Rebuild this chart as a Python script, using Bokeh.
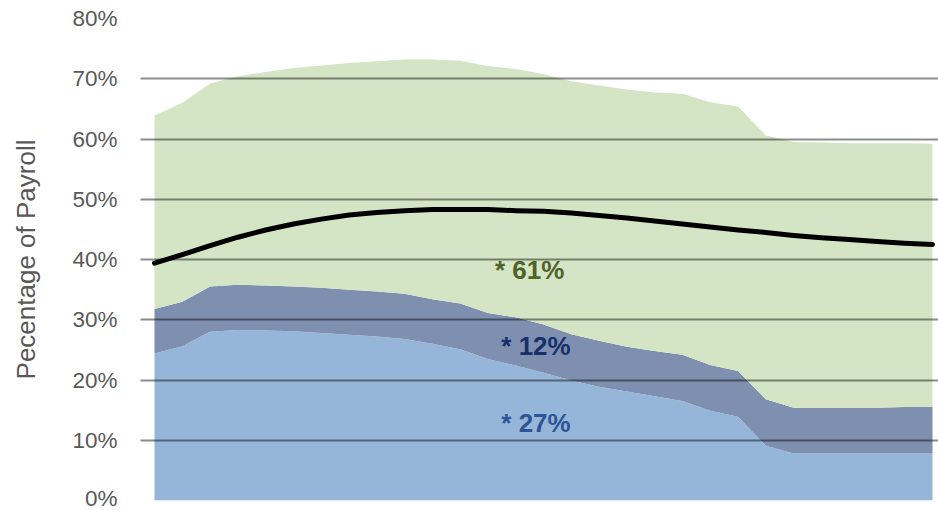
from bokeh.plotting import figure
from bokeh.models import ColumnDataSource, Range1d, FixedTicker
from bokeh.embed import file_html
from bokeh.resources import INLINE

# Projected cost as a percentage of payroll, one value per projection year
member_share = [24.4, 25.6, 28.0, 28.3, 28.2, 28.1, 27.8, 27.5, 27.2, 26.8,
                26.0, 25.1, 23.5, 22.4, 21.2, 19.9, 18.9, 18.1, 17.3, 16.5,
                14.9, 13.9, 9.1, 7.8, 7.8, 7.8, 7.8, 7.8, 7.8]
employer_share = [7.4, 7.4, 7.5, 7.5, 7.5, 7.4, 7.5, 7.5, 7.5, 7.5,
                  7.4, 7.6, 7.6, 8.0, 8.0, 7.7, 7.6, 7.4, 7.5, 7.7,
                  7.6, 7.6, 7.7, 7.6, 7.6, 7.6, 7.6, 7.7, 7.7]
investment_share = [32.1, 33.0, 33.7, 34.6, 35.4, 36.3, 36.9, 37.6, 38.2, 38.9,
                    39.8, 40.3, 41.0, 41.2, 41.6, 42.0, 42.4, 42.7, 42.9, 43.3,
                    43.6, 43.9, 43.8, 44.1, 44.0, 43.9, 43.9, 43.8, 43.7]
normal_cost = [39.4, 40.8, 42.3, 43.7, 44.9, 45.9, 46.7, 47.4, 47.8, 48.1,
               48.3, 48.3, 48.3, 48.1, 48.0, 47.7, 47.3, 46.9, 46.4, 45.9,
               45.4, 44.9, 44.5, 44.0, 43.6, 43.3, 43.0, 42.7, 42.5]

y_ticks = [0, 10, 20, 30, 40, 50, 60, 70, 80]
y_tick_labels = ["0%", "10%", "20%", "30%", "40%", "50%", "60%", "70%", "80%"]

share_labels = ["* 61%", "* 12%", "* 27%"]

year_index = list(range(len(member_share)))

source = ColumnDataSource(dict(
    x=year_index,
    member=member_share,
    employer=employer_share,
    investment=investment_share,
    normal=normal_cost,
))

p = figure(width=938, height=510, output_backend="svg", toolbar_location=None,
           x_range=Range1d(-0.504, 28.216), y_range=Range1d(0, 80),
           min_border_left=140, min_border_right=0,
           min_border_top=18, min_border_bottom=10)

p.background_fill_color = "white"
p.border_fill_color = "white"
p.outline_line_color = None

p.varea_stack(stackers=["member", "employer", "investment"], x="x", source=source,
              color=["#95B6D9", "#7F8FAF", "#D4E5C5"])

p.line(x="x", y="normal", source=source, line_color="black", line_width=5,
       line_cap="round", line_join="round")

label_font = "Liberation Sans"
p.text(x=[13.5], y=[38.2], text=[share_labels[0]], text_color="#4F6228",
       text_font_size="26px", text_font_style="bold", text_align="center",
       text_baseline="middle", text_font={"value": label_font})
p.text(x=[13.73], y=[25.6], text=[share_labels[1]], text_color="#17306B",
       text_font_size="26px", text_font_style="bold", text_align="center",
       text_baseline="middle", text_font={"value": label_font})
p.text(x=[13.73], y=[12.9], text=[share_labels[2]], text_color="#2F5496",
       text_font_size="26px", text_font_style="bold", text_align="center",
       text_baseline="middle", text_font={"value": label_font})

p.xaxis.visible = False
p.xgrid.visible = False

p.ygrid.ticker = FixedTicker(ticks=y_ticks)
p.ygrid.level = "overlay"
p.ygrid.grid_line_color = "black"
p.ygrid.grid_line_alpha = 0.45
p.ygrid.grid_line_width = 2

ax = p.yaxis[0]
ax.ticker = FixedTicker(ticks=y_ticks)
ax.major_label_overrides = {t: s for t, s in zip(y_ticks, y_tick_labels)}
ax.axis_line_color = None
ax.major_tick_line_color = None
ax.minor_tick_line_color = None
ax.major_tick_out = 0
ax.major_tick_in = 0
ax.major_label_standoff = 23
ax.major_label_text_font = label_font
ax.major_label_text_font_size = "22.5px"
ax.major_label_text_color = "#595959"
ax.axis_label = "Pecentage of Payroll"
ax.axis_label_text_font = label_font
ax.axis_label_text_font_size = "26px"
ax.axis_label_text_font_style = "normal"
ax.axis_label_text_color = "#595959"
ax.axis_label_standoff = 28

with open("out.html", "w") as f:
    f.write(file_html(p, INLINE))
